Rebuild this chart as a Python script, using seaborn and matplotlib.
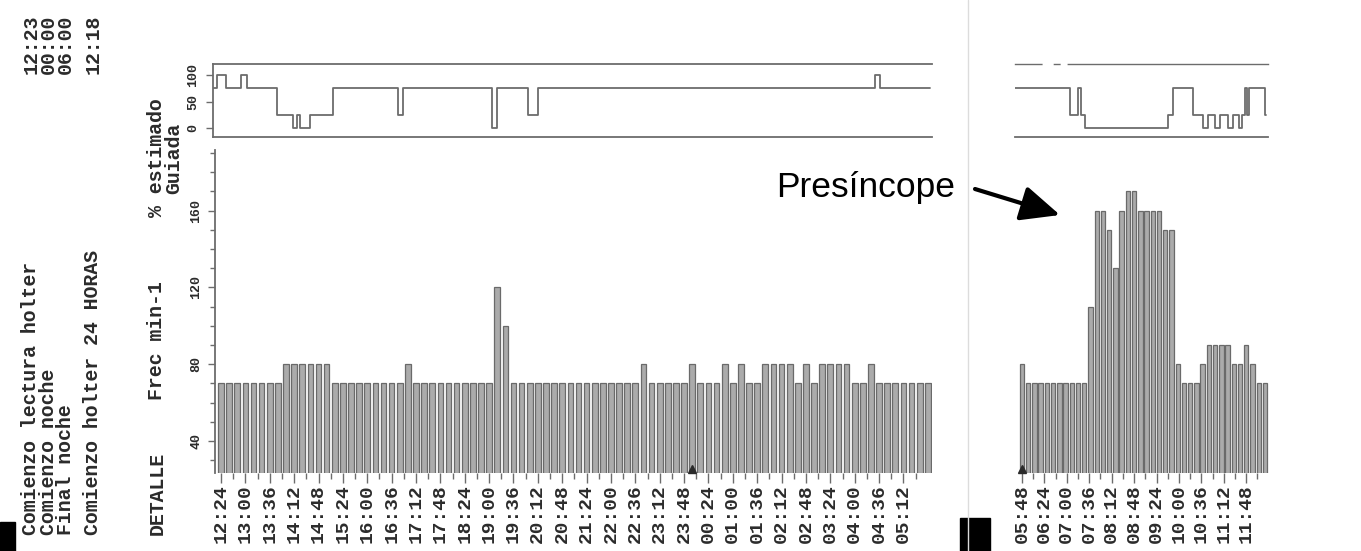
import numpy as np
import matplotlib
matplotlib.use("Agg")
import matplotlib.pyplot as plt
import seaborn as sns
from matplotlib.patches import Rectangle, FancyArrowPatch
from matplotlib.lines import Line2D
from matplotlib.ticker import FixedLocator, MultipleLocator

# ---------------- data ----------------
# Heart rate (beats/min), 12-minute bins from 12:24 onwards (first strip)
hr_day = [
    70, 70, 70, 70, 70, 70, 70, 70, 80, 80,
    80, 80, 80, 80, 70, 70, 70, 70, 70, 70,
    70, 70, 70, 80, 70, 70, 70, 70, 70, 70,
    70, 70, 70, 70, 120, 100, 70, 70, 70, 70,
    70, 70, 70, 70, 70, 70, 70, 70, 70, 70,
    70, 70, 80, 70, 70, 70, 70, 70, 80, 70,
    70, 70, 80, 70, 80, 70, 70, 80, 80, 80,
    80, 70, 80, 70, 80, 80, 80, 80, 70, 70,
    80, 70, 70, 70, 70, 70, 70, 70,
]
# Heart rate, 10-minute bins from 05:48 onwards (second strip)
hr_morning = [
    80, 70, 70, 70, 70, 70, 70, 70, 70, 70,
    70, 110, 160, 160, 150, 130, 160, 170, 170, 160,
    160, 160, 160, 150, 150, 80, 70, 70, 70, 80,
    90, 90, 90, 90, 80, 80, 90, 80, 70, 70,
]

# "% estimado Guiada" step trace: change times and levels
guided_day_times = ["12:12", "12:18", "12:31", "12:54", "13:02", "13:47", "14:10",
                    "14:16", "14:21", "14:35", "15:09", "16:45", "16:53", "19:04",
                    "19:12", "19:57", "20:12", "04:30", "04:37", "05:51"]
guided_day_pct = [75, 100, 75, 100, 75, 25, 0, 25, 0, 25, 75, 25, 75, 0,
                  75, 25, 75, 100, 75, 75]
guided_morning_times = ["05:37", "07:05", "07:18", "07:23", "07:29", "09:42", "09:50",
                        "10:22", "10:38", "10:47", "10:58", "11:06", "11:19", "11:27",
                        "11:36", "11:41", "11:46", "11:49", "11:52", "12:18", "12:20"]
guided_morning_pct = [75, 25, 75, 25, 0, 25, 75, 25, 0, 25, 0, 25, 0, 25,
                      0, 25, 75, 25, 75, 25, 25]

day_ticks = ["12:24", "13:00", "13:36", "14:12", "14:48", "15:24", "16:00", "16:36",
             "17:12", "17:48", "18:24", "19:00", "19:36", "20:12", "20:48", "21:24",
             "22:00", "22:36", "23:12", "23:48", "00:24", "01:00", "01:36", "02:12",
             "02:48", "03:24", "04:00", "04:36", "05:12"]
morning_ticks = ["05:48", "06:24", "07:00", "07:36", "08:12", "08:48", "09:24",
                 "10:00", "10:36", "11:12", "11:48"]

side_captions = ["Comienzo lectura holter", "Comienzo noche", "Final noche"]
side_clocks = ["12:23", "00:00", "06:00"]
record_start = ("Comienzo holter 24 HORAS", "12:18")


def minutes_after(ref, clock):
    """Minutes elapsed from clock time `ref` to `clock`, wrapping past midnight."""
    rh, rm = map(int, ref.split(":"))
    h, m = map(int, clock.split(":"))
    d = (h * 60 + m) - (rh * 60 + rm)
    return d if d >= -60 else d + 1440


day_ref, morning_ref = "12:00", "05:48"
t_day = minutes_after(day_ref, "12:24") + 12 * np.arange(len(hr_day))
t_morning = 10 * np.arange(len(hr_morning))
g_day_t = [minutes_after(day_ref, s) for s in guided_day_times]
g_morning_t = [minutes_after(morning_ref, s) for s in guided_morning_times]
day_tick_t = [minutes_after(day_ref, s) for s in day_ticks]
morning_tick_t = [minutes_after(morning_ref, s) for s in morning_ticks]

# ---------------- style ----------------
sns.set_theme(style="white")
plt.rcParams["font.family"] = ["Liberation Mono", "DejaVu Sans Mono"]
plt.rcParams["font.weight"] = "bold"

INK = "#2b2b2b"
LINE = "#6c6c6c"
BAR_FACE = "#ababab"
BAR_EDGE = "#6a6a6a"

W, H = 1361, 551
fig = plt.figure(figsize=(W / 100, H / 100), dpi=100)
fig.patch.set_facecolor("white")


def box(l, t, r, b):
    return [l / W, 1 - b / H, (r - l) / W, (b - t) / H]


ax_tl = fig.add_axes(box(213, 64, 932, 137))
ax_bl = fig.add_axes(box(215, 150, 932, 473))
ax_tr = fig.add_axes(box(1015, 64, 1268, 137))
ax_br = fig.add_axes(box(1015, 150, 1272, 473))

for ax in (ax_tl, ax_bl, ax_tr, ax_br):
    ax.set_facecolor("none")
    for s in ax.spines.values():
        s.set_color(LINE)
        s.set_linewidth(1.3)

# ---------------- heart-rate bars ----------------
sns.barplot(x=t_day, y=hr_day, native_scale=True, width=0.7, color=BAR_FACE,
            saturation=1, edgecolor=BAR_EDGE, linewidth=0.9, errorbar=None, ax=ax_bl)
sns.barplot(x=t_morning, y=hr_morning, native_scale=True, width=0.7, color=BAR_FACE,
            saturation=1, edgecolor=BAR_EDGE, linewidth=0.9, errorbar=None, ax=ax_br)

day_xlim = (15.1, 1074.2)
day_xlim_top = (12.2, 1074.2)
morning_xlim_bars = (-11.2, 401.3)
morning_xlim_top = (-11.2, 394.9)
hr_ylim = (23.3, 191.6)

for ax, xl, ticks, labels in ((ax_bl, day_xlim, day_tick_t, day_ticks),
                              (ax_br, morning_xlim_bars, morning_tick_t, morning_ticks)):
    ax.set_xlim(*xl)
    ax.set_ylim(*hr_ylim)
    ax.xaxis.set_major_locator(FixedLocator(ticks))
    ax.xaxis.set_minor_locator(FixedLocator([v + 18 for v in ticks]))
    ax.set_xticklabels(labels, rotation=90, fontsize=14, color=INK,
                       fontweight="bold", va="top", ha="center")
    ax.tick_params(axis="x", which="major", direction="out", length=7, width=1,
                   color=LINE, pad=1, bottom=True)
    ax.tick_params(axis="x", which="minor", direction="out", length=4, width=1,
                   color=LINE, bottom=True)
    ax.set_xlabel("")
    ax.set_ylabel("")
    for side in ("top", "right", "bottom"):
        ax.spines[side].set_visible(False)

ax_bl.yaxis.set_major_locator(FixedLocator([40, 80, 120, 160]))
ax_bl.yaxis.set_minor_locator(MultipleLocator(10))
ax_bl.set_yticklabels(["40", "80", "120", "160"], rotation=90, fontsize=9.5,
                      color=INK, fontweight="bold", va="center")
ax_bl.tick_params(axis="y", which="major", direction="out", length=5, width=1,
                  color=LINE, pad=4, left=True)
ax_bl.tick_params(axis="y", which="minor", direction="out", length=3.5, width=1,
                  color=LINE, left=True)
ax_br.spines["left"].set_visible(False)
ax_br.set_yticks([])

# night markers
ax_bl.plot([minutes_after(day_ref, "00:00")], [hr_ylim[0] + 2], marker="^",
           color=INK, markersize=6, clip_on=False, linestyle="none")
ax_br.plot([0], [hr_ylim[0] + 2], marker="^", color=INK, markersize=6,
           clip_on=False, linestyle="none")

# ---------------- guided % step trace ----------------
sns.lineplot(x=g_day_t, y=guided_day_pct, drawstyle="steps-post", color=LINE,
             linewidth=1.3, sort=False, estimator=None, ax=ax_tl)
sns.lineplot(x=g_morning_t, y=guided_morning_pct, drawstyle="steps-post", color=LINE,
             linewidth=1.3, sort=False, estimator=None, ax=ax_tr)

pct_ylim = (-16.3, 120.6)
ax_tl.set_xlim(*day_xlim_top)
ax_tl.set_ylim(*pct_ylim)
ax_tr.set_xlim(*morning_xlim_top)
ax_tr.set_ylim(*pct_ylim)
for ax in (ax_tl, ax_tr):
    ax.set_xticks([])
    ax.set_xlabel("")
    ax.set_ylabel("")
    ax.spines["right"].set_visible(False)

ax_tl.set_yticks([0, 50, 100])
ax_tl.set_yticklabels(["0", "50", "100"], rotation=90, fontsize=9.5, color=INK,
                      fontweight="bold", va="center")
ax_tl.tick_params(axis="y", direction="out", length=5, width=1, color=LINE, pad=5,
                  left=True)
ax_tr.set_yticks([])
ax_tr.spines["left"].set_visible(False)
ax_tr.spines["top"].set_linewidth(1.0)
ax_tr.spines["top"].set_linestyle((0, (19, 9, 4, 6, 160)))

# ---------------- side captions ----------------
txt = dict(rotation=90, rotation_mode="anchor", va="center", fontsize=14.3,
           color=INK, fontweight="bold", linespacing=0.88)
fig.text(48 / W, 1 - 535 / H, "\n".join(side_captions), ha="left",
         multialignment="left", **txt)
fig.text(48 / W, 1 - 15 / H, "\n".join(side_clocks), ha="right",
         multialignment="right", **txt)
fig.text(93 / W, 1 - 535 / H, record_start[0], ha="left", **txt)
fig.text(93 / W, 1 - 15 / H, record_start[1], ha="right", **txt)
fig.text(157 / W, 1 - 535 / H, "DETALLE", ha="left", **txt)
fig.text(157 / W, 1 - 341 / H, "Frec min-1", ha="center", **txt)
fig.text(165 / W, 1 - 158 / H, "% estimado\nGuiada", ha="center",
         multialignment="center", **txt)

# ---------------- annotation ----------------
fig.text(955 / W, 1 - 187 / H, "Presíncope", ha="right", va="center",
         fontsize=25.5, family="Liberation Sans", fontweight="normal", color="black")
fig.add_artist(FancyArrowPatch(posA=(975 / W, 1 - 189 / H), posB=(1060 / W, 1 - 215 / H),
                               transform=fig.transFigure,
                               arrowstyle="-|>,head_length=0.6,head_width=0.27",
                               mutation_scale=40, lw=3.0, color="black",
                               shrinkA=0, shrinkB=0))

# page fold and registration marks of the printout
fig.add_artist(Line2D([968 / W, 968 / W], [0, 1], transform=fig.transFigure,
                      color="#dcdcdc", lw=1))
fig.add_artist(Rectangle((0, 0), 15 / W, 29 / H, transform=fig.transFigure,
                         color="black"))
fig.add_artist(Rectangle((960 / W, 0), 30 / W, 33 / H, transform=fig.transFigure,
                         color="black"))

fig.savefig("out.png", dpi=100, facecolor="white")
